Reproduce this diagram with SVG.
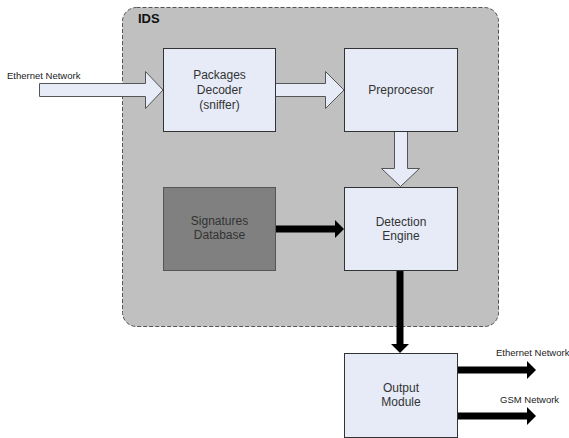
<svg xmlns="http://www.w3.org/2000/svg" width="569" height="438" viewBox="0 0 569 438">
<defs>
<style>
.box{fill:#e6ebf7;stroke:#333;stroke-width:1}
.dark{fill:#808080;stroke:#555;stroke-width:1}
.t{font-family:"Liberation Sans",Arial,sans-serif;font-size:12px;fill:#333;text-anchor:middle}
.s{font-family:"Liberation Sans",Arial,sans-serif;font-size:9.5px;fill:#222}
.blk{fill:#e6ebf7;stroke:#555;stroke-width:1}
.thick{stroke:#000;stroke-width:7;fill:none}
.head{fill:#000}
</style>
</defs>
<rect width="569" height="438" fill="#fff"/>
<g id="ids">
<rect x="122.5" y="7.5" width="376" height="319" rx="14" fill="#c0c0c0" stroke="#555" stroke-width="1" stroke-dasharray="4,2"/>
<text x="138" y="23" font-family="Liberation Sans,Arial,sans-serif" font-size="13" font-weight="bold" fill="#111">IDS</text>
</g>
<g id="connectors">
<path class="blk" d="M39.5,83.5 H145.5 V71.5 L163,90 L145.5,108.5 V96.5 H39.5 Z"/>
<path class="blk" d="M275.5,83.5 H325.5 V71.5 L344,90 L325.5,108.5 V96.5 H275.5 Z"/>
<path class="blk" d="M394.5,131.5 V168.5 H381.5 L400.5,186.5 L419.5,168.5 H407.5 V131.5 Z"/>
<line class="thick" x1="276" y1="229" x2="336" y2="229"/>
<path class="head" d="M335,220 L344,229 L335,238 Z"/>
<line class="thick" x1="400" y1="271" x2="400" y2="345"/>
<path class="head" d="M391,344 L400,353 L409,344 Z"/>
<line class="thick" x1="457" y1="370" x2="528" y2="370"/>
<path class="head" d="M527,361 L536,370 L527,379 Z"/>
<line class="thick" x1="457" y1="416" x2="528" y2="416"/>
<path class="head" d="M527,407 L536,416 L527,425 Z"/>
</g>
<g id="label-eth-in"><text class="s" x="7" y="79">Ethernet Network</text></g>
<g id="label-eth-out"><text class="s" x="496" y="356">Ethernet Network</text></g>
<g id="label-gsm"><text class="s" x="500" y="403">GSM Network</text></g>
<g id="packages-decoder">
<rect class="box" x="163.5" y="48.5" width="112" height="83"/>
<text class="t" x="219.5" y="79">Packages</text>
<text class="t" x="219.5" y="94">Decoder</text>
<text class="t" x="219.5" y="109">(sniffer)</text>
</g>
<g id="preprocesor">
<rect class="box" x="344.5" y="48.5" width="113" height="83"/>
<text class="t" x="401" y="94">Preprocesor</text>
</g>
<g id="signatures-database">
<rect class="dark" x="163.5" y="187.5" width="112" height="83"/>
<text class="t" x="219.5" y="225">Signatures</text>
<text class="t" x="219.5" y="239">Database</text>
</g>
<g id="detection-engine">
<rect class="box" x="344.5" y="187.5" width="113" height="83"/>
<text class="t" x="401" y="226">Detection</text>
<text class="t" x="401" y="240">Engine</text>
</g>
<g id="output-module">
<rect class="box" x="344.5" y="353.5" width="113" height="84"/>
<text class="t" x="401" y="392">Output</text>
<text class="t" x="401" y="406">Module</text>
</g>
</svg>
